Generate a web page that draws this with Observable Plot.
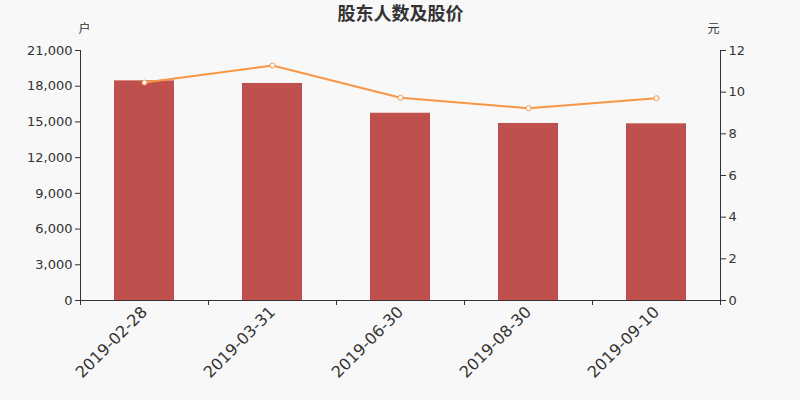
<!DOCTYPE html>
<html>
<head>
<meta charset="utf-8">
<script src="https://cdn.jsdelivr.net/npm/d3@7"></script>
<script src="https://cdn.jsdelivr.net/npm/@observablehq/plot@0.6"></script>
<style>
  html, body { margin: 0; padding: 0; background: #f8f8f8; }
</style>
</head>
<body>
<div id="chart"></div>
<script>
const dates = ["2019-02-28", "2019-03-31", "2019-06-30", "2019-08-30", "2019-09-10"];
const holders = [18450, 18230, 15730, 14870, 14840];
const prices = [10.46, 11.28, 9.73, 9.23, 9.71];
const leftTicks = [0, 3000, 6000, 9000, 12000, 15000, 18000, 21000];
const rightTicks = [0, 2, 4, 6, 8, 10, 12];
const title = "股东人数及股价";

const k = 21000 / 12; // map price axis onto holder axis
const data = dates.map((d, i) => ({date: d, holders: holders[i], price: prices[i]}));
const font = "'DejaVu Sans', 'Noto Sans CJK SC', sans-serif";
const axisColor = "#333";
const half = 64;

const chart = Plot.plot({
  width: 800,
  height: 400,
  marginTop: 50,
  marginBottom: 100,
  marginLeft: 80,
  marginRight: 80,
  style: {background: "#f8f8f8", fontFamily: font, color: "#333"},
  x: {domain: dates, paddingInner: 0.53, paddingOuter: 0.265, label: null, axis: null},
  y: {domain: [0, 21000], label: null, axis: null},
  marks: [
    Plot.barY(data, {x: "date", y: "holders", fill: "#c0504d"}),
    Plot.ruleY([0], {stroke: axisColor, strokeWidth: 1}),
    Plot.ruleX([dates[0]], {dx: -half, stroke: axisColor}),
    Plot.ruleX([dates[dates.length - 1]], {dx: half, stroke: axisColor}),
    Plot.ruleX(dates, {dx: -half, insetTop: 250, insetBottom: -5, stroke: axisColor}),
    Plot.ruleX([dates[dates.length - 1]], {dx: half, insetTop: 250, insetBottom: -5, stroke: axisColor}),
    Plot.axisX({anchor: "bottom", tickSize: 0, tickPadding: 9, tickRotate: -45, fontSize: 16, label: null, fill: "#333"}),
    Plot.axisY(leftTicks, {anchor: "left", tickSize: 5, tickPadding: 3, tickFormat: d3.format(","), fontSize: 13, label: null, stroke: axisColor, fill: "#333"}),
    Plot.axisY(rightTicks.map(v => v * k), {anchor: "right", tickSize: 5, tickPadding: 3, tickFormat: d => String(Math.round(d / k)), fontSize: 13, label: null, stroke: axisColor, fill: "#333"}),
    Plot.line(data, {x: "date", y: d => d.price * k, stroke: "#f79646", strokeWidth: 2}),
    Plot.dot(data, {x: "date", y: d => d.price * k, r: 2.5, fill: "white", stroke: "#f79646", strokeWidth: 1}),
    Plot.text([title], {frameAnchor: "top", dy: -43, fontSize: 18, fontWeight: "bold", fill: "#333", text: d => d, style: "letter-spacing:4px"}),
    Plot.text(["户"], {frameAnchor: "top-left", dx: -2, dy: -26, fontSize: 12, fill: "#333", text: d => d}),
    Plot.text(["元"], {frameAnchor: "top-right", dx: -1, dy: -26, fontSize: 12, fill: "#333", text: d => d})
  ]
});
document.getElementById("chart").appendChild(chart);
</script>
</body>
</html>
